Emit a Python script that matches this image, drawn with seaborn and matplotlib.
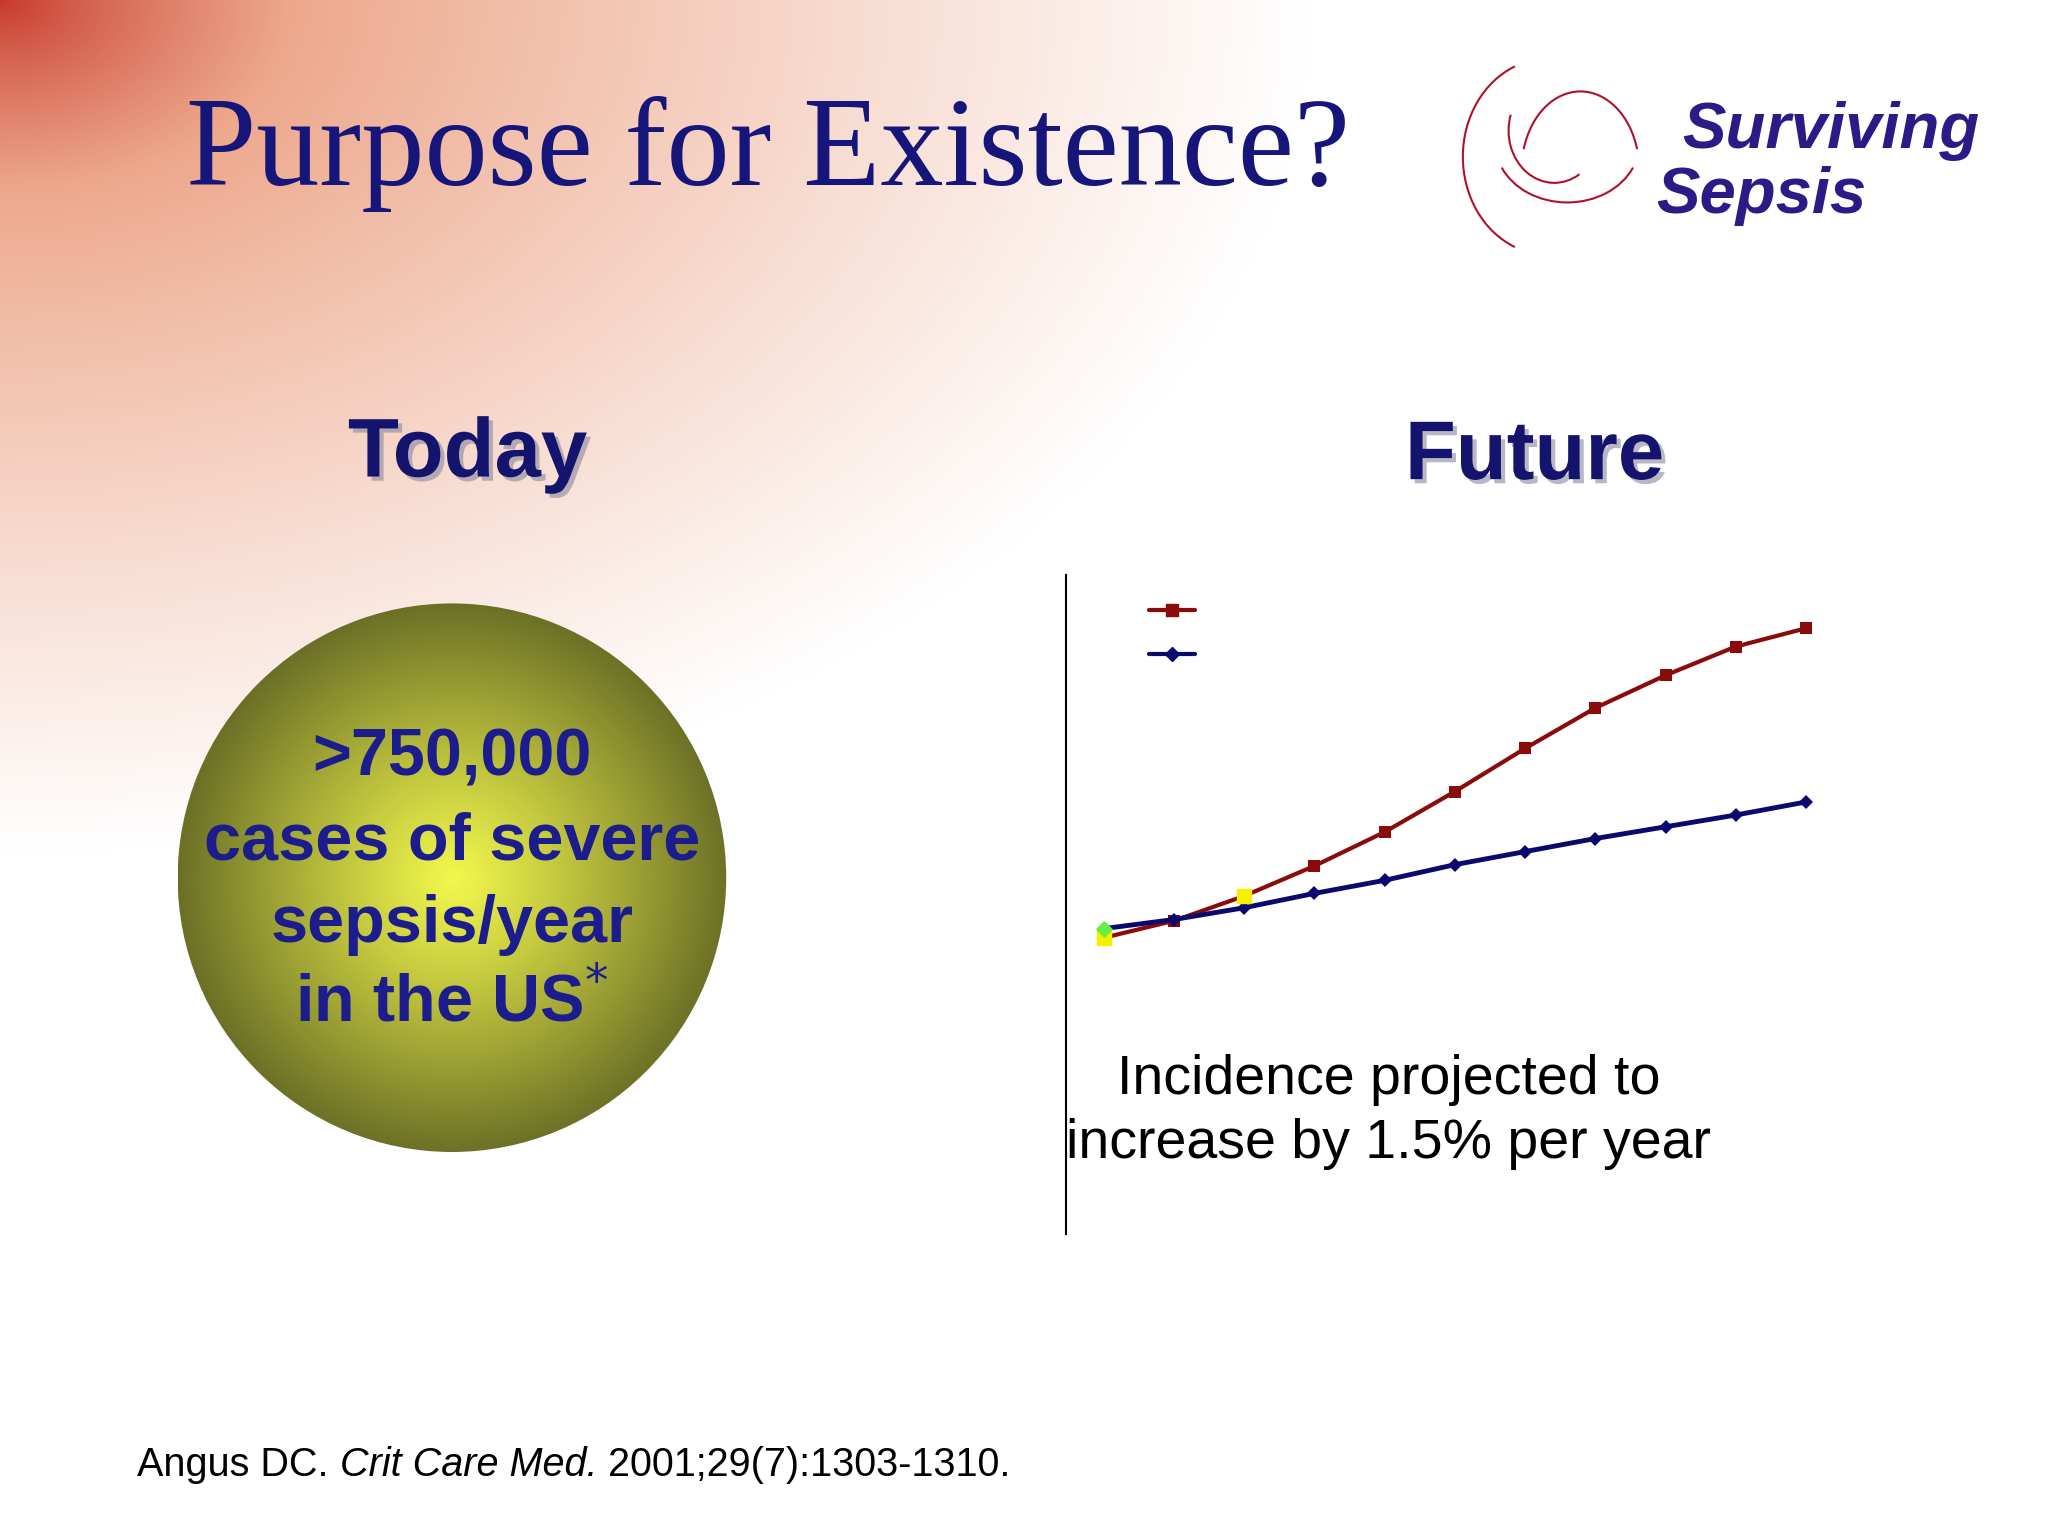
import numpy as np
import pandas as pd
import matplotlib
matplotlib.use("Agg")
import matplotlib.pyplot as plt
import matplotlib.patheffects as pe
import seaborn as sns
from matplotlib.patches import Circle, Arc

years = list(range(11))
series_red = [227, 240, 259, 282, 308, 339, 372, 403, 428, 450, 464]
series_blue = [234, 241, 250, 261, 271, 283, 293, 303, 312, 321, 331]

sns.set_style("white")
plt.rcParams['font.family'] = ['Liberation Sans', 'DejaVu Sans']

W, H = 1568, 1176
fig = plt.figure(figsize=(20.48, 15.36), dpi=100)

# background gradient
bg = fig.add_axes([0, 0, 1, 1])
yy, xx = np.mgrid[0:H:4, 0:W:4]
d = np.sqrt((xx / 1000.0) ** 2 + (yy / 650.0) ** 2)
t = np.clip(d, 0, 1) ** 0.8
c0 = np.array([0.78, 0.22, 0.17]); c1 = np.array([0.93, 0.66, 0.55]); c2 = np.array([1.0, 1.0, 1.0])
img = np.where(t[..., None] < 0.3,
               c0 + (c1 - c0) * (t[..., None] / 0.3),
               c1 + (c2 - c1) * ((t[..., None] - 0.3) / 0.7))
img = np.clip(img, 0, 1)
bg.imshow(img, extent=[0, W, H, 0], aspect='auto', interpolation='bilinear')
bg.set_xlim(0, W); bg.set_ylim(H, 0); bg.axis('off')

# gradient circle
cx, cy, r = 346, 672, 210
gy, gx = np.mgrid[cy - r:cy + r:2, cx - r:cx + r:2]
rr = np.clip(np.sqrt((gx - cx) ** 2 + (gy - cy) ** 2) / r, 0, 1)
inner = np.array([0.95, 0.97, 0.30]); outer = np.array([0.42, 0.44, 0.15])
cimg = inner + (outer - inner) * rr[..., None] ** 1.1
im = bg.imshow(cimg, extent=[cx - r, cx + r, cy + r, cy - r], aspect='auto', interpolation='bilinear')
circ = Circle((cx, cy), r, transform=bg.transData, facecolor='none', edgecolor='none')
bg.add_patch(circ)
im.set_clip_path(circ)

navy = '#1c1c8c'
for txt, y in [('>750,000', 581), ('cases of severe', 645), ('sepsis/year', 708)]:
    bg.text(cx, y, txt, ha='center', va='center', fontsize=48, fontweight='bold', color=navy)
bg.text(cx, 768, 'in the US$^{*}$', ha='center', va='center', fontsize=48, fontweight='bold', color=navy)

# titles
bg.text(588, 118, 'Purpose for Existence?', ha='center', va='center', fontsize=91,
        family=['Liberation Serif', 'DejaVu Serif'], color='#16167a')
for txt, x, y in [('Today', 358, 348), ('Future', 1175, 350)]:
    bg.text(x, y, txt, ha='center', va='center', fontsize=60, fontweight='bold', color='#14146e',
            path_effects=[pe.withSimplePatchShadow(offset=(3, -3), shadow_rgbFace='#8888a0', alpha=0.6)])

# logo
bg.text(1288, 100, 'Surviving', ha='left', va='center', fontsize=47, fontweight='bold', style='italic', color='#2c1a86')
bg.text(1268, 150, 'Sepsis', ha='left', va='center', fontsize=47, fontweight='bold', style='italic', color='#2c1a86')
for (ax_, ay_, w_, h_, t1, t2) in [(1185, 120, 130, 150, 110, 250), (1200, 110, 110, 90, 20, 160),
                                   (1210, 130, 90, 120, 200, 340), (1190, 100, 70, 80, 60, 200)]:
    bg.add_patch(Arc((ax_, ay_), w_, h_, theta1=t1, theta2=t2, color='#b0102a', lw=1.5))

# footnotes
bg.text(1063, 827, 'Incidence projected to', ha='center', va='center', fontsize=40, color='black')
bg.text(1063, 876, 'increase by 1.5% per year', ha='center', va='center', fontsize=40, color='black')

fig.canvas.draw()
renderer = fig.canvas.get_renderer()
x0 = 105
for txt, st in [('Angus DC. ', 'normal'), ('Crit Care Med.', 'italic'), (' 2001;29(7):1303-1310.', 'normal')]:
    tt = bg.text(x0, 1122, txt, ha='left', va='center', fontsize=28.5, style=st, color='black')
    bb = tt.get_window_extent(renderer)
    x0 += bb.width * W / fig.bbox.width

# chart
ax = fig.add_axes([816 / W, 1 - 945 / H, (1400 - 816) / W, (945 - 440) / H])
ax.patch.set_alpha(0)
df = pd.DataFrame({'year': years * 2, 'value': series_red + series_blue,
                   'series': ['red'] * 11 + ['blue'] * 11})
sns.lineplot(data=df[df.series == 'red'], x='year', y='value', ax=ax, color='#8b0a0a',
             marker='s', markersize=9, linewidth=3, markeredgewidth=0, legend=False)
sns.lineplot(data=df[df.series == 'blue'], x='year', y='value', ax=ax, color='#0a0a6e',
             marker='D', markersize=7, linewidth=3.5, markeredgewidth=0, legend=False)
ax.scatter([years[0], years[2]], [series_red[0], series_red[2]], marker='s', s=90, color='#f5f000', zorder=5)
ax.scatter([years[0]], [series_blue[0]], marker='D', s=60, color='#66ee44', zorder=6)
ax.set_xlim(-0.539, 10.32)
ax.set_ylim(0, 505)
for s in ['top', 'right', 'bottom']:
    ax.spines[s].set_visible(False)
ax.spines['left'].set_color('black'); ax.spines['left'].set_linewidth(1.5)
ax.set_xticks([]); ax.set_yticks([]); ax.set_xlabel(''); ax.set_ylabel('')
# legend markers (no labels)
ax.plot([0.65, 1.3], [478, 478], color='#8b0a0a', lw=3)
ax.plot([0.97], [478], color='#8b0a0a', marker='s', markersize=9, ls='none')
ax.plot([0.65, 1.3], [444, 444], color='#0a0a6e', lw=3)
ax.plot([0.97], [444], color='#0a0a6e', marker='D', markersize=7, ls='none')

fig.savefig('out.png', dpi=100)
